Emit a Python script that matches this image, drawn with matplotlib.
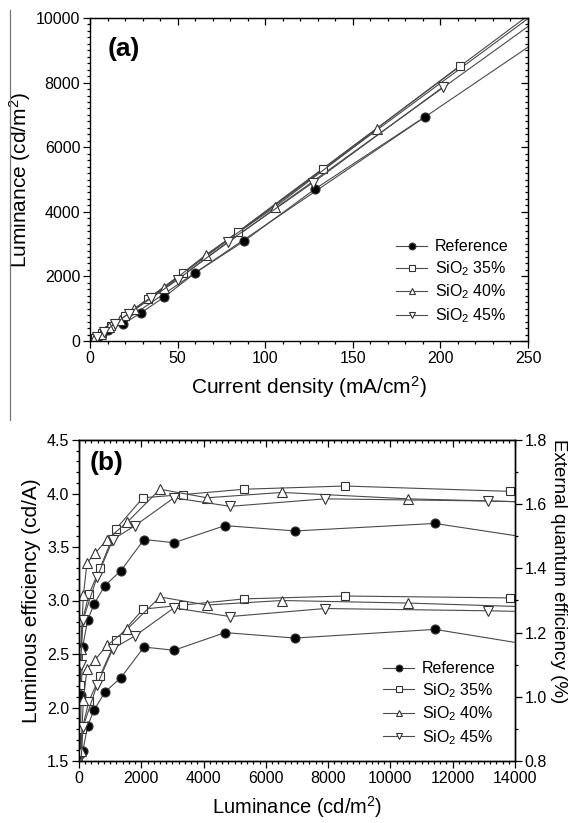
import numpy as np
import matplotlib.pyplot as plt
from matplotlib.ticker import MultipleLocator
from matplotlib.lines import Line2D

plt.rcParams['font.family'] = ['Liberation Sans', 'DejaVu Sans']
plt.rcParams['mathtext.fontset'] = 'custom'
plt.rcParams['mathtext.rm'] = 'Liberation Sans'
plt.rcParams['mathtext.it'] = 'Liberation Sans:italic'

LINE = '#4a4a4a'
EDGE = '#333333'

labels = ['Reference', 'SiO$_2$ 35%', 'SiO$_2$ 40%', 'SiO$_2$ 45%']
markers = ['o', 's', '^', 'v']
faces = ['black', 'white', 'white', 'white']

# (a) current density (mA/cm2) vs luminance (cd/m2)
j_ref = [2, 5, 10, 18.8, 29, 42.4, 60, 88, 128.4, 191]
l_ref = [60, 170, 350, 526, 867, 1362, 2105, 3096, 4706, 6935]
j_35 = [3, 7, 12, 20, 33, 53, 84.7, 133, 211]
l_35 = [100, 250, 450, 780, 1300, 2105, 3375, 5325, 8514]
j_40 = [2, 6, 11, 17, 25, 42.4, 66, 105.6, 164]
l_40 = [60, 220, 420, 650, 980, 1640, 2663, 4149, 6563]
j_45 = [4, 8, 14, 22, 35, 50, 78.6, 127, 201.5]
l_45 = [130, 290, 520, 850, 1330, 1900, 3065, 4892, 7864]

# (b) luminance vs luminous efficiency (cd/A) and EQE (%)
lum_ref = [40, 70, 120, 280, 490, 835, 1349, 2087, 3050, 4690, 6936, 11430, 14600]
ce_ref = [1.57, 2.12, 2.57, 2.82, 2.97, 3.14, 3.28, 3.57, 3.54, 3.70, 3.65, 3.72, 3.58]
eqe_ref = [0.51, 0.69, 0.83, 0.91, 0.96, 1.015, 1.06, 1.155, 1.145, 1.20, 1.183, 1.21, 1.16]
lum_35 = [40, 100, 321, 674, 1188, 2055, 3340, 5300, 8540, 13840]
ce_35 = [2.21, 2.80, 3.06, 3.30, 3.67, 3.96, 3.99, 4.04, 4.07, 4.02]
eqe_35 = [0.71, 0.90, 0.987, 1.065, 1.177, 1.273, 1.286, 1.305, 1.314, 1.308]
lum_40 = [60, 140, 257, 514, 900, 1540, 2600, 4110, 6520, 10570, 14500]
ce_40 = [2.55, 3.05, 3.35, 3.44, 3.57, 3.73, 4.04, 3.96, 4.01, 3.95, 3.92]
eqe_40 = [0.83, 0.99, 1.087, 1.115, 1.16, 1.21, 1.311, 1.286, 1.30, 1.292, 1.28]
lum_45 = [50, 130, 580, 1090, 1800, 3050, 4850, 7900, 13130, 14500]
ce_45 = [2.40, 2.82, 3.22, 3.57, 3.70, 3.96, 3.88, 3.95, 3.93, 3.92]
eqe_45 = [0.77, 0.906, 1.037, 1.15, 1.19, 1.277, 1.25, 1.275, 1.268, 1.265]

fig = plt.figure(figsize=(5.78, 8.23), dpi=100)

# page edge line on the left
fig.add_artist(Line2D([10 / 578, 10 / 578], [1 - 10 / 823, 1 - 420 / 823],
                      color='#777777', lw=0.9))

TICK_FS = 11.5
LABEL_FS = 15


def style_axes(ax):
    ax.tick_params(which='both', direction='out', labelsize=TICK_FS, width=0.9)
    ax.tick_params(which='major', length=5, pad=2)
    ax.tick_params(which='minor', length=2.5)
    for s in ax.spines.values():
        s.set_linewidth(1.0)


def mirror(ax, right=True):
    top = ax.secondary_xaxis('top')
    top.xaxis.set_major_locator(ax.xaxis.get_major_locator())
    top.xaxis.set_minor_locator(ax.xaxis.get_minor_locator())
    top.tick_params(which='both', direction='in', labeltop=False, width=0.9)
    top.tick_params(which='major', length=5)
    top.tick_params(which='minor', length=2.5)
    if right:
        r = ax.secondary_yaxis('right')
        r.yaxis.set_major_locator(ax.yaxis.get_major_locator())
        r.yaxis.set_minor_locator(ax.yaxis.get_minor_locator())
        r.tick_params(which='both', direction='in', labelright=False, width=0.9)
        r.tick_params(which='major', length=5)
        r.tick_params(which='minor', length=2.5)


legend_kw = dict(frameon=False, fontsize=11.5, handlelength=1.9,
                 labelspacing=0.3, handletextpad=0.5, markerscale=0.75)

# ---------------- panel (a) ----------------
axa = fig.add_axes([90 / 578, 1 - 341 / 823, 438 / 578, 323 / 823])
a_data = [(j_ref, l_ref), (j_35, l_35), (j_40, l_40), (j_45, l_45)]
xs = np.array([0, 250])
for (j, l), m, fc, lab in zip(a_data, markers, faces, labels):
    fit = np.polyfit(j, l, 1)
    axa.plot(xs, np.polyval(fit, xs), color=LINE, lw=0.8, zorder=1)
    axa.plot(j, l, marker=m, mfc=fc, mec=EDGE, ms=6.5 if m != 's' else 5.5,
             mew=0.8, color=LINE, lw=0.8, label=lab, zorder=2)
axa.set_xlim(0, 250)
axa.set_ylim(0, 10000)
axa.xaxis.set_major_locator(MultipleLocator(50))
axa.xaxis.set_minor_locator(MultipleLocator(10))
axa.yaxis.set_major_locator(MultipleLocator(2000))
axa.yaxis.set_minor_locator(MultipleLocator(200))
style_axes(axa)
mirror(axa)
axa.set_xlabel('Current density (mA/cm$^2$)', fontsize=LABEL_FS, labelpad=6)
axa.set_ylabel('Luminance (cd/m$^2$)', fontsize=LABEL_FS, labelpad=2)
axa.text(0.04, 0.94, '(a)', transform=axa.transAxes, fontsize=19,
         fontweight='bold', va='top')
axa.legend(loc='lower right', bbox_to_anchor=(0.97, 0.03), borderaxespad=0,
           **legend_kw)

# ---------------- panel (b) ----------------
axb = fig.add_axes([79 / 578, 1 - 761 / 823, 436 / 578, 321 / 823])
axq = axb.twinx()
b_data = [(lum_ref, ce_ref, eqe_ref), (lum_35, ce_35, eqe_35),
          (lum_40, ce_40, eqe_40), (lum_45, ce_45, eqe_45)]
for (lum, ce, q), m, fc, lab in zip(b_data, markers, faces, labels):
    ms = 6.5 if m != 's' else 5.5
    axb.plot(lum, ce, marker=m, mfc=fc, mec=EDGE, ms=ms, mew=0.8,
             color=LINE, lw=0.8, label=lab)
    axq.plot(lum, q, marker=m, mfc=fc, mec=EDGE, ms=ms, mew=0.8,
             color=LINE, lw=0.8)
axb.set_xlim(0, 14000)
axb.set_ylim(1.5, 4.5)
axq.set_ylim(0.8, 1.8)
axb.xaxis.set_major_locator(MultipleLocator(2000))
axb.xaxis.set_minor_locator(MultipleLocator(200))
axb.yaxis.set_major_locator(MultipleLocator(0.5))
axb.yaxis.set_minor_locator(MultipleLocator(0.1))
axq.yaxis.set_major_locator(MultipleLocator(0.2))
axq.yaxis.set_minor_locator(MultipleLocator(0.1))
style_axes(axb)
style_axes(axq)
mirror(axb, right=False)
axb.yaxis.set_major_formatter(plt.FormatStrFormatter('%.1f'))
axq.yaxis.set_major_formatter(plt.FormatStrFormatter('%.1f'))
axb.set_xlabel('Luminance (cd/m$^2$)', fontsize=14.5, labelpad=6)
axb.set_ylabel('Luminous efficiency (cd/A)', fontsize=LABEL_FS, labelpad=4)
axq.set_ylabel('External quantum efficiency (%)', fontsize=13.5,
               rotation=270, va='center')
axq.yaxis.set_label_coords(1.1, 0.59)
axb.text(0.025, 0.965, '(b)', transform=axb.transAxes, fontsize=19,
         fontweight='bold', va='top')
axb.legend(loc='lower right', bbox_to_anchor=(0.97, 0.025), borderaxespad=0,
           **legend_kw)

fig.savefig('out.png', dpi=100)
